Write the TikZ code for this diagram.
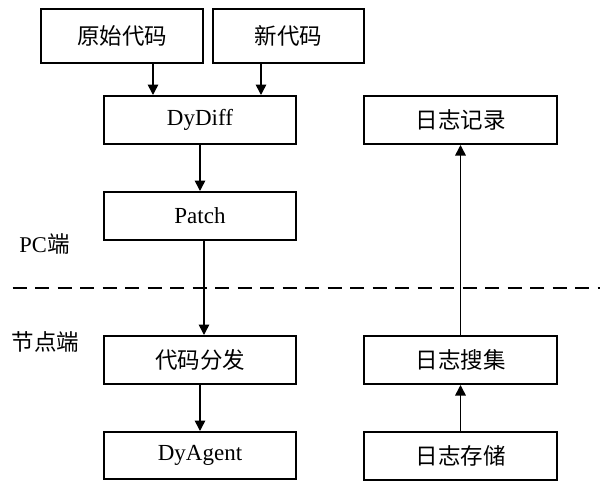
\documentclass[tikz,border=0pt]{standalone}
\usepackage{fontspec}
\setmainfont{Liberation Serif}
\newfontfamily\cjk{Noto Sans CJK SC}
\usetikzlibrary{arrows.meta}
\tikzset{
  box/.style={draw, line width=2pt, rectangle, inner sep=0pt, font=\fontsize{23}{26}\selectfont},
  arr/.style={line width=1.6pt, -{Triangle[length=10.5pt,width=10.5pt]}},
  sep/.style={line width=2pt, dash pattern=on 14pt off 8.5pt},
  lbl/.style={font=\fontsize{22.5}{26}\selectfont, inner sep=0pt}
}
\begin{document}
\begin{tikzpicture}[x=1pt,y=-1pt]
\useasboundingbox (0,0) rectangle (600,480);
\node[box, minimum width=162pt, minimum height=54pt] (orig) at (122,35.5) {\cjk\fontsize{22.5}{26}\selectfont 原始代码};
\node[box, minimum width=151pt, minimum height=54pt] (new) at (288.5,35.5) {\cjk\fontsize{22.5}{26}\selectfont 新代码};
\node[box, minimum width=192pt, minimum height=48pt] (dydiff) at (200,120) {DyDiff};
\node[box, minimum width=192pt, minimum height=48pt] (patch) at (200,216) {Patch};
\node[box, minimum width=192pt, minimum height=48pt] (dist) at (200,360) {\cjk\fontsize{22.5}{26}\selectfont 代码分发};
\node[box, minimum width=192pt, minimum height=47pt] (agent) at (200,455.5) {DyAgent};
\node[box, minimum width=193pt, minimum height=48pt] (logrec) at (460.5,120) {\cjk\fontsize{22.5}{26}\selectfont 日志记录};
\node[box, minimum width=193pt, minimum height=48pt] (logcol) at (460.5,360) {\cjk\fontsize{22.5}{26}\selectfont 日志搜集};
\node[box, minimum width=193pt, minimum height=48pt] (logsto) at (460.5,455.5) {\cjk\fontsize{22.5}{26}\selectfont 日志存储};
\node[lbl] (pc) at (44.5,244) {PC{\cjk 端}};
\node[lbl] (nd) at (45.5,342) {\cjk 节点端};
\coordinate (ca) at (153,0);
\coordinate (cb) at (261,0);
\coordinate (cc) at (204,0);
\coordinate (dl) at (12.7,288);
\coordinate (dr) at (600,288);
\draw[sep] (dl) -- (dr);
\draw[arr] (orig.south -| ca) -- (dydiff.north -| ca);
\draw[arr] (new.south -| cb) -- (dydiff.north -| cb);
\draw[arr] (dydiff) -- (patch);
\draw[arr] (patch.south -| cc) -- (dist.north -| cc);
\draw[arr] (dist) -- (agent);
\draw[arr] (logsto) -- (logcol);
\draw[arr] (logcol) -- (logrec);
\end{tikzpicture}
\end{document}
